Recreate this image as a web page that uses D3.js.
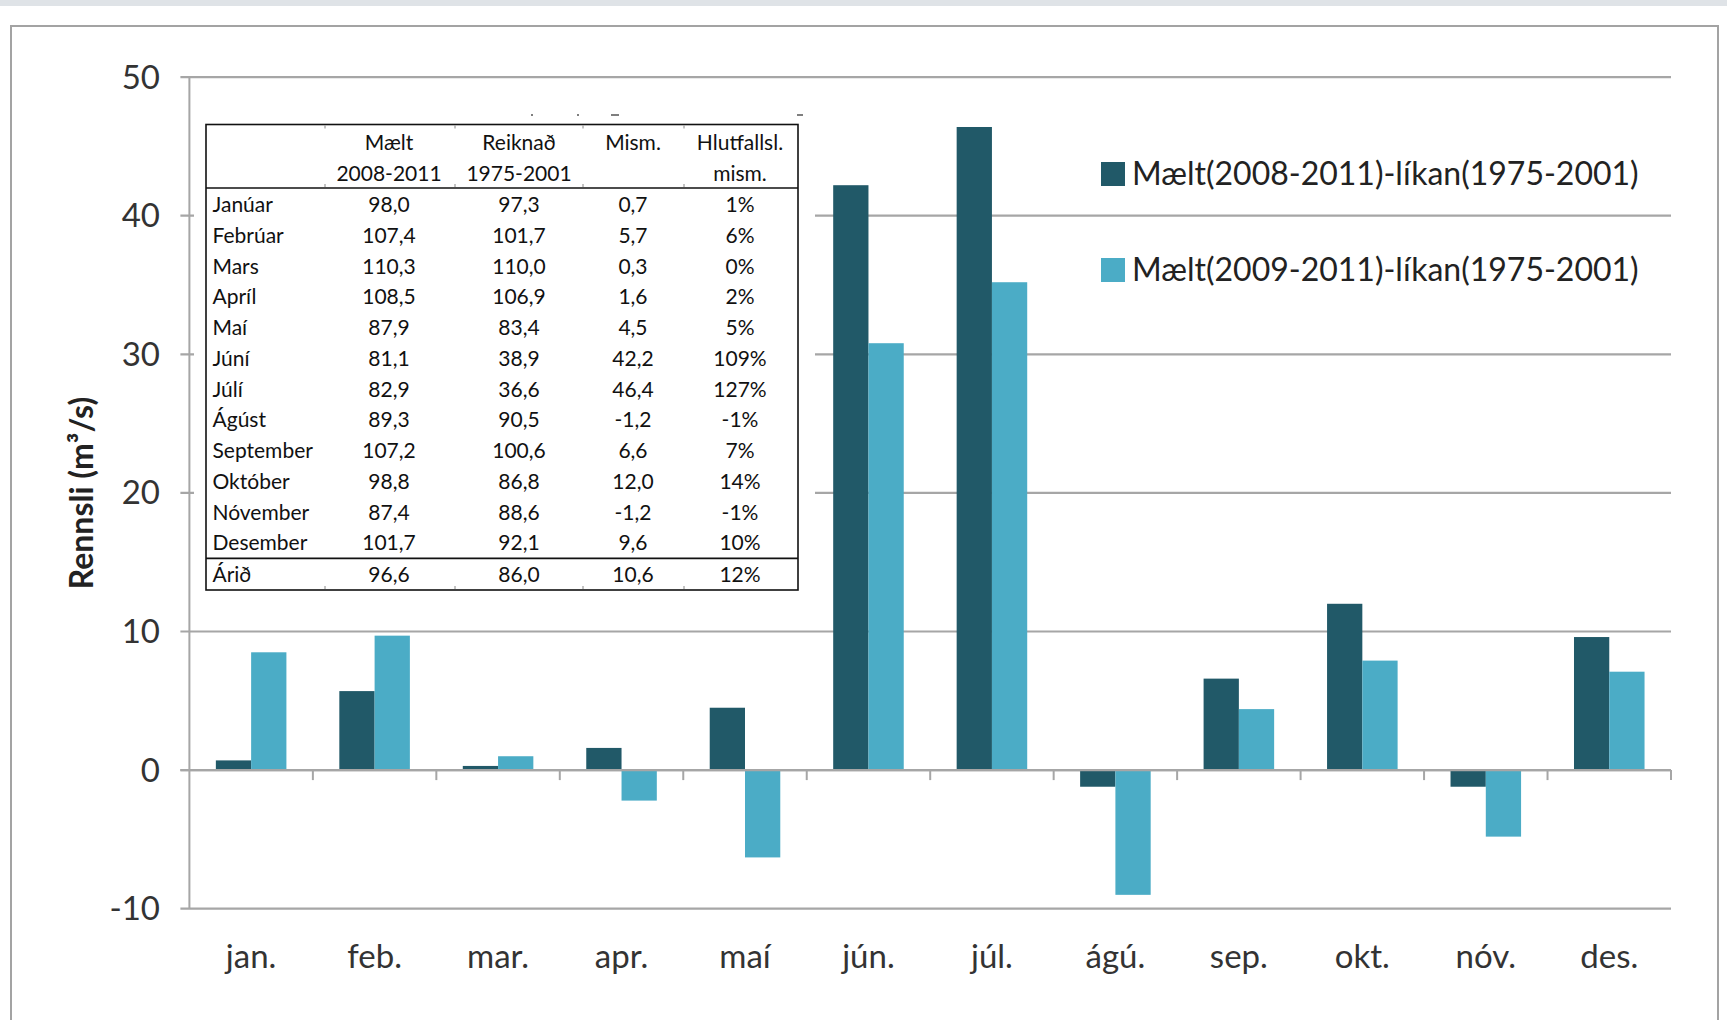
<!DOCTYPE html>
<html>
<head>
<meta charset="utf-8">
<script src="https://cdn.jsdelivr.net/npm/d3@7"></script>
<style>
  body { margin: 0; background: #fff; }
  svg { display: block; font-family: Lato, "Open Sans", sans-serif; }
</style>
</head>
<body>
<div id="chart"></div>
<script>
// chart data
var months = ['jan.', 'feb.', 'mar.', 'apr.', 'maí', 'jún.', 'júl.', 'ágú.', 'sep.', 'okt.', 'nóv.', 'des.'];
var seriesNames = ['Mælt(2008-2011)-líkan(1975-2001)', 'Mælt(2009-2011)-líkan(1975-2001)'];
var diff0811 = [0.7, 5.7, 0.3, 1.6, 4.5, 42.2, 46.4, -1.2, 6.6, 12.0, -1.2, 9.6];
var diff0911 = [8.5, 9.7, 1.0, -2.2, -6.3, 30.8, 35.2, -9.0, 4.4, 7.9, -4.8, 7.1];
var yTicks = [-10, 0, 10, 20, 30, 40, 50];
var colors = ['#215968', '#4bacc6'];

// table data
var tableHead = [['', ''], ['Mælt', '2008-2011'], ['Reiknað', '1975-2001'], ['Mism.', ''], ['Hlutfallsl.', 'mism.']];
var tableMonths = ['Janúar', 'Febrúar', 'Mars', 'Apríl', 'Maí', 'Júní', 'Júlí', 'Ágúst', 'September', 'Október', 'Nóvember', 'Desember'];
var maelt = [98.0, 107.4, 110.3, 108.5, 87.9, 81.1, 82.9, 89.3, 107.2, 98.8, 87.4, 101.7];
var reiknad = [97.3, 101.7, 110.0, 106.9, 83.4, 38.9, 36.6, 90.5, 100.6, 86.8, 88.6, 92.1];
var mism = [0.7, 5.7, 0.3, 1.6, 4.5, 42.2, 46.4, -1.2, 6.6, 12.0, -1.2, 9.6];
var hlutf = [1, 6, 0, 2, 5, 109, 127, -1, 7, 14, -1, 10];
var yearRow = ['Árið', 96.6, 86.0, 10.6, 12];

var W = 1727, H = 1020;
var plot = { left: 189.4, right: 1671, top: 77.1, bottom: 908.7 };

var svg = d3.select('#chart')
  .append('svg')
    .attr('width', W)
    .attr('height', H);

// page band + frame
svg.append('rect').attr('x', 0).attr('y', 0).attr('width', W).attr('height', 6).attr('fill', '#dfe3e7');
svg.append('rect')
  .attr('x', 11).attr('y', 26).attr('width', 1707).attr('height', 1010)
  .attr('fill', 'none').attr('stroke', '#a3a3a3').attr('stroke-width', 2);

var y = d3.scaleLinear().domain([-10, 50]).range([plot.bottom, plot.top]);
var x = d3.scaleBand()
  .domain(months)
  .range([plot.left, plot.right])
  .paddingInner(1.5 / 3.5)
  .paddingOuter(0.75 / 3.5);
var xs = d3.scaleBand().domain([0, 1]).range([0, x.bandwidth()]);
var step = x.step();

// gridlines
svg.append('g')
  .selectAll('line')
  .data(yTicks)
  .join('line')
    .attr('x1', plot.left - 9)
    .attr('x2', plot.right)
    .attr('y1', d => y(d))
    .attr('y2', d => y(d))
    .attr('stroke', '#a6a6a6')
    .attr('stroke-width', 2.2);

// y axis line
svg.append('line')
  .attr('x1', plot.left).attr('x2', plot.left)
  .attr('y1', y(50)).attr('y2', y(-10))
  .attr('stroke', '#a6a6a6').attr('stroke-width', 2);

// y labels
svg.append('g')
  .selectAll('text')
  .data(yTicks)
  .join('text')
    .attr('x', 160)
    .attr('y', d => y(d))
    .attr('dy', '0.35em')
    .attr('text-anchor', 'end')
    .attr('font-size', 33)
    .attr('fill', '#333')
    .text(d => d);

// x axis tick marks at the right edge of each category
svg.append('g')
  .selectAll('line')
  .data(months)
  .join('line')
    .attr('x1', d => x(d) - x.paddingOuter() * step + step)
    .attr('x2', d => x(d) - x.paddingOuter() * step + step)
    .attr('y1', y(0))
    .attr('y2', y(0) + 10)
    .attr('stroke', '#a6a6a6')
    .attr('stroke-width', 2);

// bars
var bars = months.map((m, i) => [diff0811[i], diff0911[i]]);
svg.append('g')
  .selectAll('g')
  .data(bars)
  .join('g')
    .attr('transform', (d, i) => `translate(${x(months[i])},0)`)
  .selectAll('rect')
  .data(d => d)
  .join('rect')
    .attr('x', (d, j) => xs(j))
    .attr('width', xs.bandwidth())
    .attr('y', d => y(Math.max(0, d)))
    .attr('height', d => Math.abs(y(d) - y(0)))
    .attr('fill', (d, j) => colors[j]);

// zero line on top
svg.append('line')
  .attr('x1', plot.left - 9).attr('x2', plot.right)
  .attr('y1', y(0)).attr('y2', y(0))
  .attr('stroke', '#a6a6a6').attr('stroke-width', 2.2);

// x labels
svg.append('g')
  .selectAll('text')
  .data(months)
  .join('text')
    .attr('x', d => x(d) + x.bandwidth() / 2)
    .attr('y', 956)
    .attr('dy', '0.35em')
    .attr('text-anchor', 'middle')
    .attr('font-size', 33)
    .attr('fill', '#333')
    .text(d => d);

// y title
svg.append('text')
  .attr('transform', 'translate(82,493) rotate(-90)')
  .attr('text-anchor', 'middle')
  .attr('dy', '0.35em')
  .attr('font-size', 32)
  .attr('font-weight', 'bold')
  .attr('fill', '#222')
  .text('Rennsli (m³/s)');

// legend
var legend = svg.append('g')
  .selectAll('g')
  .data(seriesNames)
  .join('g')
    .attr('transform', (d, i) => `translate(1101,${174 + i * 96})`);
legend.append('rect')
  .attr('x', 0).attr('y', -12).attr('width', 24).attr('height', 24)
  .attr('fill', (d, i) => colors[i]);
legend.append('text')
  .attr('x', 31)
  .attr('dy', '0.35em')
  .attr('font-size', 32)
  .attr('fill', '#222')
  .text(d => d);

// table
var fmt = v => d3.format('.1f')(v).replace('.', ',').replace('−', '-');
var pct = v => String(v).replace('−', '-') + '%';
var tb = { left: 206, right: 798, top: 124.5, bottom: 590, head: 188, year: 558.4 };
var colX = [212.5, 389, 519, 633, 740];
var sepX = [325, 455, 583, 684];
var rowY = tableMonths.map((d, i) => 204.9 + 30.73 * i);

var table = svg.append('g').attr('font-size', 21).attr('fill', '#111');
table.append('rect')
  .attr('x', 194).attr('y', 99).attr('width', 621).attr('height', 505)
  .attr('fill', '#fff');
table.append('rect')
  .attr('x', tb.left).attr('y', tb.top)
  .attr('width', tb.right - tb.left).attr('height', tb.bottom - tb.top)
  .attr('fill', 'none').attr('stroke', '#111').attr('stroke-width', 1.6);
[tb.head, tb.year].forEach(yy => {
  table.append('line')
    .attr('x1', tb.left).attr('x2', tb.right).attr('y1', yy).attr('y2', yy)
    .attr('stroke', '#111').attr('stroke-width', 1.6);
});
// small column marks
[tb.top + 1, tb.head - 4, tb.bottom - 4].forEach(yy => {
  table.append('g').selectAll('line').data(sepX).join('line')
    .attr('x1', d => d).attr('x2', d => d).attr('y1', yy).attr('y2', yy + 3)
    .attr('stroke', '#888').attr('stroke-width', 1);
});
// marks above the table
table.append('g').selectAll('line').data([[531, 533], [577, 579], [611, 619], [797, 803]]).join('line')
  .attr('x1', d => d[0]).attr('x2', d => d[1]).attr('y1', 115).attr('y2', 115)
  .attr('stroke', '#555').attr('stroke-width', 1.5);

tableHead.forEach((h, c) => {
  h.forEach((t, k) => {
    table.append('text')
      .attr('x', colX[c]).attr('y', k === 0 ? 143 : 174)
      .attr('dy', '0.35em').attr('text-anchor', 'middle')
      .text(t);
  });
});

var rows = tableMonths.map((m, i) => [m, fmt(maelt[i]), fmt(reiknad[i]), fmt(mism[i]), pct(hlutf[i])]);
rows.push([yearRow[0], fmt(yearRow[1]), fmt(yearRow[2]), fmt(yearRow[3]), pct(yearRow[4])]);
var rowPos = rowY.concat([575]);

table.append('g')
  .selectAll('g')
  .data(rows)
  .join('g')
    .attr('transform', (d, i) => `translate(0,${rowPos[i]})`)
  .selectAll('text')
  .data(d => d)
  .join('text')
    .attr('x', (d, c) => colX[c])
    .attr('dy', '0.35em')
    .attr('text-anchor', (d, c) => c === 0 ? 'start' : 'middle')
    .text(d => d);
</script>
</body>
</html>
